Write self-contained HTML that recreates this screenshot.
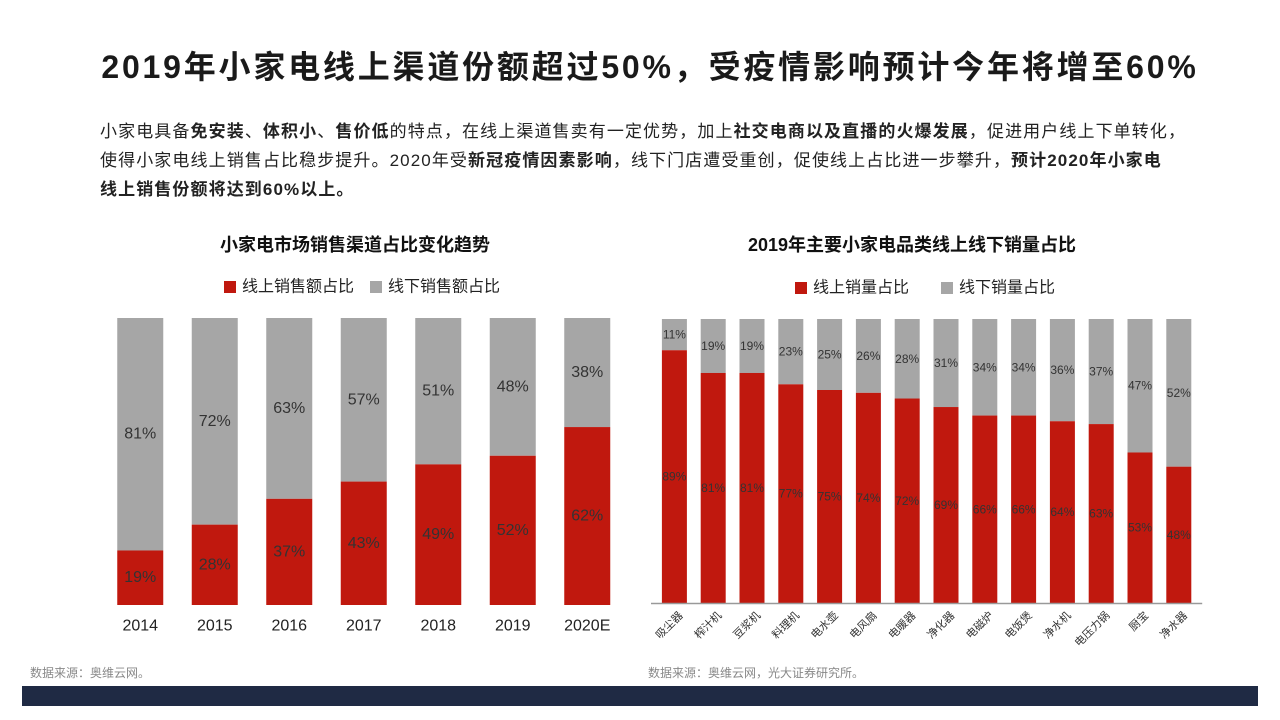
<!DOCTYPE html>
<html><head><meta charset="utf-8"><style>
body{margin:0;width:1280px;height:720px;background:#fff;overflow:hidden;font-family:"Liberation Sans","Noto Sans CJK SC",sans-serif;position:relative}
.t{position:absolute;white-space:nowrap}
#title{left:0;width:1300px;text-align:center;top:42px;font-size:32px;font-weight:bold;color:#1a1a1a;letter-spacing:2.8px}
#para{left:100px;top:117px;font-size:17px;line-height:29px;color:#222;letter-spacing:1.1px}
#para b{font-weight:bold}
.ct{font-size:18px;font-weight:bold;color:#111}
.src{font-size:12px;color:#888}
</style></head><body>
<div class="t" id="title">2019年小家电线上渠道份额超过50%，受疫情影响预计今年将增至60%</div>
<div class="t" id="para">小家电具备<b>免安装</b>、<b>体积小</b>、<b>售价低</b>的特点，在线上渠道售卖有一定优势，加上<b>社交电商以及直播的火爆发展</b>，促进用户线上下单转化，<br>使得小家电线上销售占比稳步提升。2020年受<b>新冠疫情因素影响</b>，线下门店遭受重创，促使线上占比进一步攀升，<b>预计2020年小家电</b><br><b>线上销售份额将达到60%以上。</b></div>
<div class="t ct" style="left:220px;top:231px">小家电市场销售渠道占比变化趋势</div>
<div class="t ct" style="left:748px;top:231px">2019年主要小家电品类线上线下销量占比</div>
<div class="t src" style="left:30px;top:664px">数据来源：奥维云网。</div>
<div class="t src" style="left:648px;top:664px">数据来源：奥维云网，光大证券研究所。</div>
<div style="position:absolute;left:22px;top:686px;width:1236px;height:20px;background:#1f2a44"></div>
<svg id="svg" width="1280" height="720" style="position:absolute;left:0;top:0"></svg>
<script>
const yearsL=["2014","2015","2016","2017","2018","2019","2020E"];
const onlineL=[19,28,37,43,49,52,62];
const offlineL=[81,72,63,57,51,48,38];
const catsR=["吸尘器","榨汁机","豆浆机","料理机","电水壶","电风扇","电暖器","净化器","电磁炉","电饭煲","净水机","电压力锅","厨宝","净水器"];
const onlineR=[89,81,81,77,75,74,72,69,66,66,64,63,53,48];
const offlineR=[11,19,19,23,25,26,28,31,34,34,36,37,47,52];
const RED="#c0180e",GRAY="#a6a6a6",NS="http://www.w3.org/2000/svg";
const svg=document.getElementById('svg');
function el(tag,attrs,parent){const e=document.createElementNS(NS,tag);for(const k in attrs)e.setAttribute(k,attrs[k]);(parent||svg).appendChild(e);return e;}
function txt(x,y,s,size,fill,extra){const e=el('text',Object.assign({x:x,y:y,'font-size':size,fill:fill,'text-anchor':'middle','dominant-baseline':'central','font-family':'"Liberation Sans","Noto Sans CJK SC",sans-serif'},extra||{}));e.textContent=s;return e;}
function legend(x,y,size){
 let r=el('rect',{x:x,y:y-6,width:12,height:12,fill:RED});
 let a=txt(x+18,y,'线上'+size,16,'#222',{'text-anchor':'start'});
 let g=el('rect',{x:x+146,y:y-6,width:12,height:12,fill:GRAY});
 let b=txt(x+164,y,'线下'+size,16,'#222',{'text-anchor':'start'});
}
function chart(cats,on,off,x0,step,bw,top,bot,fs,rot,name,axis){
 const h=bot-top;const ys=v=>v/100*h;
 cats.forEach((c,i)=>{
  const cx=x0+step*i+step/2;const x=cx-bw/2;
  const hr=ys(on[i]),hg=ys(off[i]);
  let g=el('rect',{x:x,y:bot-hr-hg,width:bw,height:hg,fill:GRAY});
  
  let r=el('rect',{x:x,y:bot-hr,width:bw,height:hr,fill:RED});
  
  let t1=txt(cx,bot-hr-hg/2,off[i]+'%',fs,'#333');
  let t2=txt(cx,bot-hr/2,on[i]+'%',fs,'#333');
  let lb;
  if(rot){lb=txt(cx+4,bot+8,c,11,'#333',{'text-anchor':'end','dominant-baseline':'hanging',transform:'rotate(-45 '+(cx+4)+' '+(bot+8)+')'});}
  else lb=txt(cx,bot+21,c,16,'#222');
  
 });
 if(axis){
 let ax=el('line',{x1:x0-4,x2:x0+step*cats.length+4,y1:bot+0.5,y2:bot+0.5,stroke:'#999','stroke-width':1.5});
 }
}
legend(224,287,'销售额占比');
legend(795,288,'销量占比');
chart(yearsL,onlineL,offlineL,103,74.5,46,318,605,16,false,'left',false);
chart(catsR,onlineR,offlineR,655,38.8,25,319,603,12,true,'right',true);
</script>
</body></html>
